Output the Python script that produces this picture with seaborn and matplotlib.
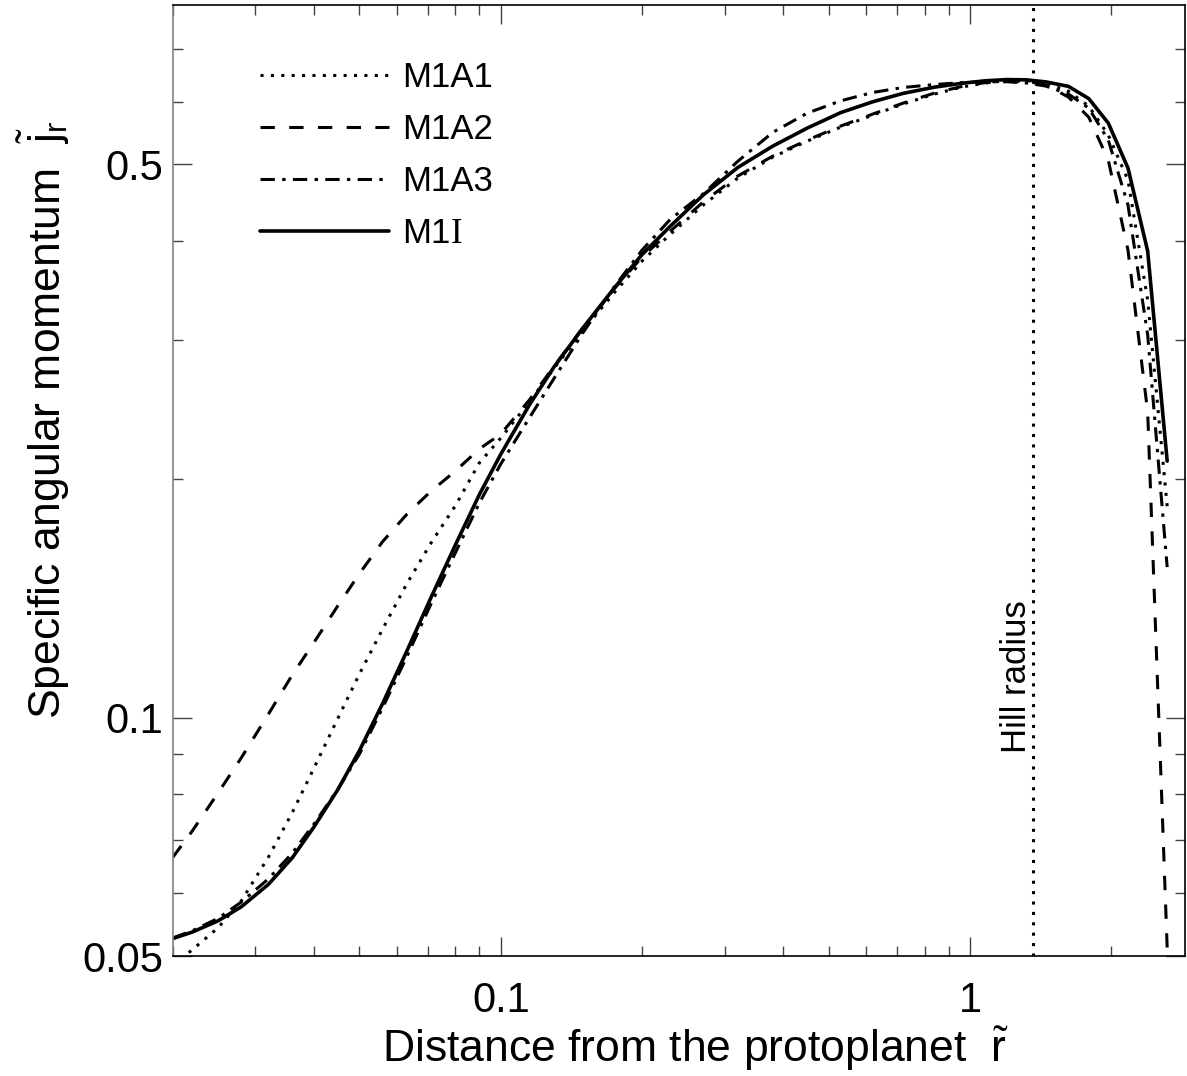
import matplotlib
matplotlib.use('Agg')
import matplotlib.pyplot as plt
import seaborn as sns
from matplotlib.ticker import FixedLocator, FixedFormatter, NullFormatter

sns.set_style("ticks")
plt.rcParams['font.family'] = ['Liberation Sans', 'DejaVu Sans']
plt.rcParams['mathtext.fontset'] = 'custom'
plt.rcParams['mathtext.rm'] = 'Liberation Serif'
plt.rcParams['mathtext.sf'] = 'Liberation Sans'
plt.rcParams['mathtext.it'] = 'Liberation Sans:italic'
plt.rcParams['text.color'] = 'black'
plt.rcParams['axes.labelcolor'] = 'black'
plt.rcParams['xtick.labelcolor'] = 'black'
plt.rcParams['ytick.labelcolor'] = 'black'

# distance from the protoplanet (shared radial grid)
r = [0.020, 0.022, 0.025, 0.028, 0.032, 0.036, 0.040, 0.045, 0.050, 0.056,
     0.063, 0.071, 0.080, 0.090, 0.100, 0.115, 0.130, 0.150, 0.175, 0.200,
     0.230, 0.270, 0.320, 0.380, 0.450, 0.530, 0.620, 0.720, 0.840, 0.960,
     1.08, 1.20, 1.32, 1.45, 1.62, 1.79, 1.97, 2.17, 2.39, 2.63]

j_m1a1 = [0.0486, 0.0509, 0.0543, 0.0587, 0.0667, 0.0760, 0.0864, 0.0999, 0.1136, 0.1294,
          0.1475, 0.1662, 0.1852, 0.2098, 0.2256, 0.2505, 0.2765, 0.3089, 0.3450, 0.3775,
          0.4084, 0.4443, 0.4807, 0.5109, 0.5352, 0.5575, 0.5772, 0.5961, 0.6137, 0.6263,
          0.6337, 0.6383, 0.6383, 0.6337, 0.6187, 0.5925, 0.5446, 0.4778, 0.3370, 0.1850]

j_m1a2 = [0.0666, 0.0719, 0.0804, 0.0890, 0.1011, 0.1134, 0.1245, 0.1386, 0.1521, 0.1669,
          0.1806, 0.1933, 0.2049, 0.2185, 0.2283, 0.2519, 0.2782, 0.3116, 0.3490, 0.3819,
          0.4120, 0.4483, 0.4835, 0.5124, 0.5368, 0.5591, 0.5789, 0.5977, 0.6155, 0.6273,
          0.6346, 0.6374, 0.6365, 0.6301, 0.6083, 0.5738, 0.5064, 0.3897, 0.2433, 0.0512]

j_m1a3 = [0.0527, 0.0538, 0.0558, 0.0585, 0.0626, 0.0675, 0.0734, 0.0813, 0.0900, 0.1029,
          0.1193, 0.1392, 0.1615, 0.1867, 0.2092, 0.2391, 0.2686, 0.3071, 0.3511, 0.3897,
          0.4266, 0.4591, 0.5047, 0.5491, 0.5806, 0.6017, 0.6165, 0.6255, 0.6309, 0.6344,
          0.6360, 0.6360, 0.6337, 0.6281, 0.6137, 0.5891, 0.5368, 0.4443, 0.3045, 0.1550]

j_m1i = [0.0526, 0.0536, 0.0554, 0.0577, 0.0616, 0.0666, 0.0728, 0.0812, 0.0909, 0.1042,
         0.1212, 0.1418, 0.1652, 0.1913, 0.2152, 0.2483, 0.2777, 0.3113, 0.3498, 0.3847,
         0.4181, 0.4575, 0.4957, 0.5275, 0.5559, 0.5814, 0.6000, 0.6149, 0.6261, 0.6332,
         0.6379, 0.6401, 0.6395, 0.6358, 0.6276, 0.6056, 0.5640, 0.4948, 0.3886, 0.2110]

labels = ["M1A1", "M1A2", "M1A3", r"M1$\mathrm{I}$"]
hill_radius = 1.36

x_major = [0.1, 1]
x_major_labels = ["0.1", "1"]
x_minor = [0.02, 0.03, 0.04, 0.05, 0.06, 0.07, 0.08, 0.09,
           0.2, 0.3, 0.4, 0.5, 0.6, 0.7, 0.8, 0.9, 2]
y_major = [0.05, 0.1, 0.5]
y_major_labels = ["0.05", "0.1", "0.5"]
y_minor = [0.06, 0.07, 0.08, 0.09, 0.2, 0.3, 0.4, 0.6, 0.7]

series = [
    (j_m1a1, (0, (1, 2.4)), 2.2),
    (j_m1a2, (0, (4.7, 4.7)), 2.2),
    (j_m1a3, (0, (4.7, 2.4, 1.1, 2.4)), 2.2),
    (j_m1i, '-', 2.6),
]

fig = plt.figure(figsize=(11.87, 10.76), dpi=100)
ax = fig.add_axes([0.1455, 0.1115, 0.8528, 0.8838])
ax.set_xscale('log')
ax.set_yscale('log')

for (vals, ls, lw), lab in zip(series, labels):
    sns.lineplot(x=r, y=vals, ax=ax, color='black', linestyle=ls, linewidth=lw,
                 label=lab, sort=True)

ax.axvline(hill_radius, color='black', linestyle=(0, (1, 2.4)), linewidth=2.2)
ax.text(hill_radius, 0.0902, "Hill radius", rotation=90, ha='right', va='bottom',
        fontsize=25)

ax.set_xlim(0.02, 2.87)
ax.set_ylim(0.05, 0.795)

ax.xaxis.set_major_locator(FixedLocator(x_major))
ax.xaxis.set_major_formatter(FixedFormatter(x_major_labels))
ax.xaxis.set_minor_locator(FixedLocator(x_minor))
ax.xaxis.set_minor_formatter(NullFormatter())
ax.yaxis.set_major_locator(FixedLocator(y_major))
ax.yaxis.set_major_formatter(FixedFormatter(y_major_labels))
ax.yaxis.set_minor_locator(FixedLocator(y_minor))
ax.yaxis.set_minor_formatter(NullFormatter())

ax.tick_params(which='both', direction='in', top=True, right=True,
               color='#444444', labelcolor='black', width=1.0, labelsize=30)
ax.tick_params(which='major', length=14)
ax.tick_params(which='minor', length=7)
ax.tick_params(axis='x', which='major', pad=18)
ax.tick_params(axis='y', which='major', pad=7)

for side in ['top', 'bottom', 'right']:
    ax.spines[side].set_color('black')
    ax.spines[side].set_linewidth(1.2)
ax.spines['left'].set_color('#808080')
ax.spines['left'].set_linewidth(1.2)

ax.set_xlabel(r"Distance from the protoplanet  $\tilde{\mathsf{r}}$", fontsize=32, color='black')
ax.set_ylabel(r"Specific angular momentum  $\tilde{\mathsf{j}}_{\mathsf{r}}$", fontsize=32, color='black')
ax.xaxis.set_label_coords(0.516, -0.072)
ax.yaxis.set_label_coords(-0.0995, 0.5636)

handles, _ = ax.get_legend_handles_labels()
leg = ax.legend(handles, labels, loc='upper left', bbox_to_anchor=(260 / 1187, 1 - 61 / 1076),
                bbox_transform=fig.transFigure, frameon=False, fontsize=25,
                handlelength=3.72, handletextpad=0.37, labelspacing=0.55,
                borderpad=0, borderaxespad=0)
for t in leg.get_texts():
    t.set_color('black')

fig.savefig('out.png', dpi=100)
plt.close(fig)
